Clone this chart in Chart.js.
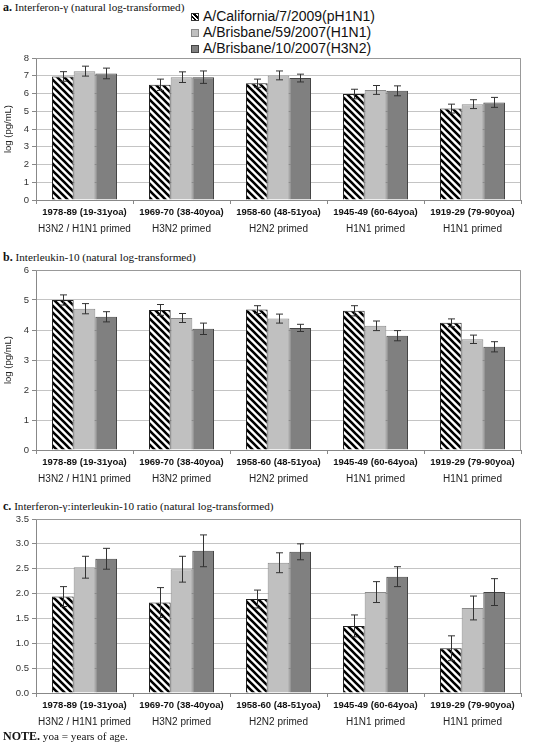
<!DOCTYPE html>
<html lang="en">
<head>
<meta charset="UTF-8">
<title>Cytokine responses by birth cohort</title>
<script src="https://cdn.jsdelivr.net/npm/chart.js"></script>
<style>
    body {
        margin: 0;
        background: #fff;
        width: 548px;
        height: 743px;
        position: relative;
        overflow: hidden;
        font-family: "Liberation Sans", Arial, sans-serif;
    }
    .title, .note {
        position: absolute;
        left: 3px;
        font-family: "Liberation Serif", "Times New Roman", serif;
        font-size: 11.2px;
        color: #111;
        white-space: nowrap;
    }
    .title b, .note b { font-size: 12px; }
    .legend {
        position: absolute;
        left: 191px;
        top: 8px;
        font-size: 14px;
        color: #111;
    }
    .legend div { height: 16px; line-height: 16px; white-space: nowrap; }
    .sw {
        display: inline-block;
        width: 8px;
        height: 8px;
        margin-right: 4px;
        vertical-align: 0px;
        box-sizing: border-box;
    }
    canvas { position: absolute; left: 0; }
</style>
</head>
<body>

<div class="title" style="top:0px"><b>a.</b> Interferon-γ (natural log-transformed)</div>
<div class="legend" id="legend"></div>
<canvas id="chartA" width="548" height="190" style="top:48px"></canvas>

<div class="title" style="top:250px"><b>b.</b> Interleukin-10 (natural log-transformed)</div>
<canvas id="chartB" width="548" height="228" style="top:260px"></canvas>

<div class="title" style="top:499px"><b>c.</b> Interferon-γ:interleukin-10 ratio (natural log-transformed)</div>
<canvas id="chartC" width="548" height="222" style="top:509px"></canvas>

<div class="note" style="top:729px"><b>NOTE.</b> yoa = years of age.</div>

<script>
// categories and labels
const cohorts = ['1978-89 (19-31yoa)', '1969-70 (38-40yoa)', '1958-60 (48-51yoa)', '1945-49 (60-64yoa)', '1919-29 (79-90yoa)'];
const primed = ['H3N2 / H1N1 primed', 'H3N2 primed', 'H2N2 primed', 'H1N1 primed', 'H1N1 primed'];
const strains = ['A/California/7/2009(pH1N1)', 'A/Brisbane/59/2007(H1N1)', 'A/Brisbane/10/2007(H3N2)'];

// a. interferon-gamma
const ifnCal = [6.96, 6.49, 6.58, 5.97, 5.15];
const ifnCalErr = [0.27, 0.32, 0.23, 0.27, 0.25];
const ifnB59 = [7.26, 6.92, 7.02, 6.20, 5.40];
const ifnB59Err = [0.28, 0.30, 0.25, 0.25, 0.25];
const ifnB10 = [7.13, 6.92, 6.87, 6.15, 5.50];
const ifnB10Err = [0.30, 0.35, 0.22, 0.28, 0.28];

// b. interleukin-10
const il10Cal = [5.00, 4.67, 4.68, 4.64, 4.24];
const il10CalErr = [0.17, 0.18, 0.13, 0.17, 0.13];
const il10B59 = [4.71, 4.40, 4.38, 4.14, 3.69];
const il10B59Err = [0.17, 0.15, 0.15, 0.16, 0.14];
const il10B10 = [4.44, 4.04, 4.07, 3.81, 3.44];
const il10B10Err = [0.17, 0.19, 0.12, 0.17, 0.17];

// c. ratio
const ratioCal = [1.94, 1.82, 1.89, 1.35, 0.90];
const ratioCalErr = [0.20, 0.30, 0.18, 0.22, 0.25];
const ratioB59 = [2.53, 2.49, 2.62, 2.03, 1.71];
const ratioB59Err = [0.22, 0.26, 0.20, 0.21, 0.24];
const ratioB10 = [2.70, 2.86, 2.84, 2.34, 2.03];
const ratioB10Err = [0.21, 0.32, 0.16, 0.20, 0.27];

Chart.defaults.font.family = '"Liberation Sans", Arial, sans-serif';
Chart.defaults.color = '#222';

// diagonal stripes for the pandemic strain
function makeHatch() {
    const c = document.createElement('canvas');
    c.width = 7; c.height = 7;
    const g = c.getContext('2d');
    g.fillStyle = '#fff';
    g.fillRect(0, 0, 7, 7);
    g.strokeStyle = '#000';
    g.lineWidth = 2.6;
    g.beginPath();
    g.moveTo(-1, -1); g.lineTo(8, 8);
    g.moveTo(-1, 6); g.lineTo(1, 8);
    g.moveTo(6, -1); g.lineTo(8, 1);
    g.stroke();
    return g.createPattern(c, 'repeat');
}
const hatch = makeHatch();
const fills = [hatch, '#c0c0c0', '#808080'];
const edges = ['#222', '#8a8a8a', '#444'];

// html legend
const legendBox = document.getElementById('legend');
const swatchCss = [
    'background: repeating-linear-gradient(45deg,#fff 0 1.6px,#000 1.6px 3.2px); border:1px solid #333;',
    'background:#c0c0c0; border:1px solid #8a8a8a;',
    'background:#808080; border:1px solid #444;'
];
strains.forEach((s, i) => {
    const row = document.createElement('div');
    row.innerHTML = '<span class="sw" style="' + swatchCss[i] + '"></span>' + s;
    legendBox.appendChild(row);
});

// error bars + plot frame
const errorBars = {
    id: 'errorBars',
    afterDatasetsDraw(chart) {
        const ctx = chart.ctx;
        const y = chart.scales.y;
        ctx.save();
        ctx.strokeStyle = '#333';
        ctx.lineWidth = 1;
        chart.data.datasets.forEach((ds, i) => {
            chart.getDatasetMeta(i).data.forEach((bar, j) => {
                const v = ds.data[j], e = ds.err[j];
                const x = Math.round(bar.x) + 0.5;
                const top = y.getPixelForValue(v + e);
                const bot = y.getPixelForValue(v - e);
                ctx.beginPath();
                ctx.moveTo(x, top); ctx.lineTo(x, bot);
                ctx.moveTo(x - 3.5, top); ctx.lineTo(x + 3.5, top);
                ctx.moveTo(x - 3.5, bot); ctx.lineTo(x + 3.5, bot);
                ctx.stroke();
            });
        });
        const a = chart.chartArea;
        ctx.strokeStyle = '#999';
        ctx.beginPath();
        ctx.moveTo(a.left, a.top + 0.5); ctx.lineTo(a.right - 0.5, a.top + 0.5);
        ctx.lineTo(a.right - 0.5, a.bottom);
        ctx.stroke();
        ctx.restore();
    }
};

function makeChart(id, series, errs, max, step, decimals, yTitle) {
    new Chart(document.getElementById(id), {
        type: 'bar',
        data: {
            labels: cohorts,
            datasets: series.map((d, i) => ({
                label: strains[i],
                data: d,
                err: errs[i],
                backgroundColor: fills[i],
                borderColor: edges[i],
                borderWidth: 1,
                categoryPercentage: 0.67,
                barPercentage: 1.0
            }))
        },
        options: {
            responsive: false,
            animation: false,
            layout: { padding: { top: 10, right: 27, left: 0, bottom: 0 } },
            plugins: { legend: { display: false }, tooltip: { enabled: false } },
            scales: {
                x: {
                    weight: 0,
                    grid: { drawOnChartArea: false, tickLength: 4, color: '#888' },
                    border: { color: '#888' },
                    ticks: { font: { size: 9.5, weight: 'bold' }, color: '#111', padding: 3, maxRotation: 0, autoSkip: false },
                    afterFit: s => { s.height = 23; }
                },
                x2: {
                    type: 'category',
                    position: 'bottom',
                    weight: 1,
                    labels: primed,
                    grid: { display: false, drawTicks: false },
                    border: { display: false },
                    ticks: { font: { size: 10 }, color: '#222', padding: 0, maxRotation: 0, autoSkip: false },
                    afterFit: s => { s.height = 15; }
                },
                y: {
                    min: 0,
                    max: max,
                    ticks: {
                        stepSize: step,
                        font: { size: 9.5 },
                        color: '#333',
                        padding: 3,
                        callback: v => v.toFixed(decimals)
                    },
                    grid: { color: '#c4c4c4', tickColor: '#888', tickLength: 4 },
                    border: { color: '#888' },
                    title: { display: !!yTitle, text: yTitle, font: { size: 9.5 }, color: '#222', padding: { top: 3, bottom: 0 } },
                    afterFit: s => { s.width = 36; }
                }
            }
        },
        plugins: [errorBars]
    });
}

makeChart('chartA', [ifnCal, ifnB59, ifnB10], [ifnCalErr, ifnB59Err, ifnB10Err], 8, 1, 0, 'log (pg/mL)');
makeChart('chartB', [il10Cal, il10B59, il10B10], [il10CalErr, il10B59Err, il10B10Err], 6, 1, 0, 'log (pg/mL)');
makeChart('chartC', [ratioCal, ratioB59, ratioB10], [ratioCalErr, ratioB59Err, ratioB10Err], 3.5, 0.5, 1, '');
</script>
</body>
</html>
